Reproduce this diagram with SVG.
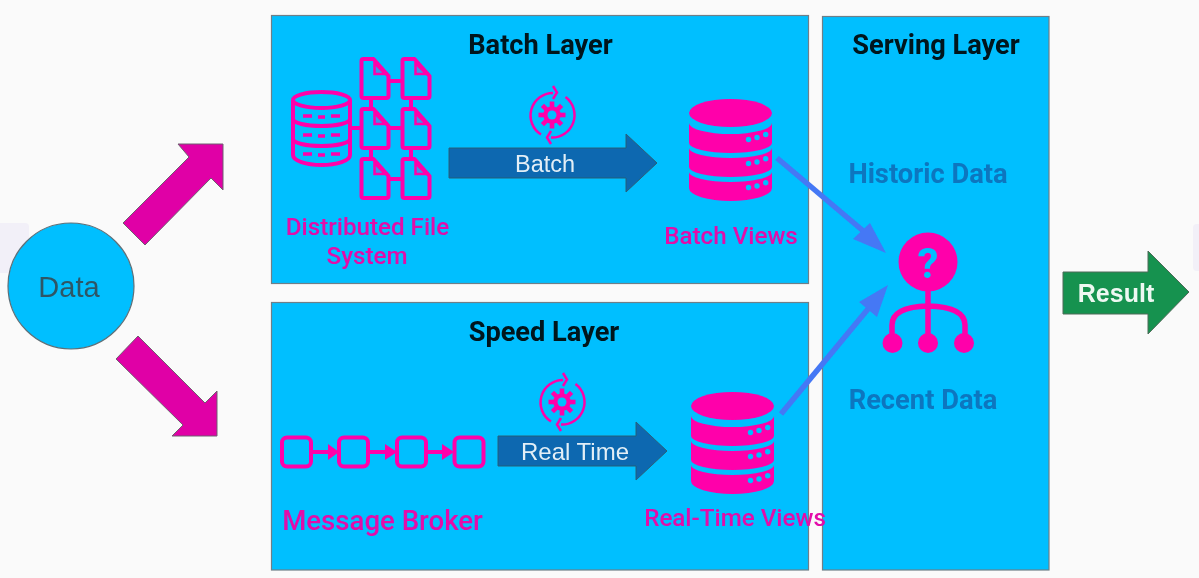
<svg xmlns="http://www.w3.org/2000/svg" width="1199" height="578" viewBox="0 0 1199 578">
<style>
text{font-family:Roboto,"Liberation Sans",sans-serif;text-anchor:middle}
.panel{fill:#00bfff;stroke:#6e7f88;stroke-width:1.2}
.h{font-size:27.200px;font-weight:700;fill:#04121c}
.m{font-weight:500;fill:#e30aa9;font-size:24.200px}
.s{font-weight:700;fill:#0a76bf;font-size:27.300px}
.a{font-family:"Liberation Sans",sans-serif}
.ln{fill:none;stroke:#ff00aa;stroke-width:4;stroke-linejoin:round;stroke-linecap:round}
.big{fill:#e000a6;stroke:#6f5f70;stroke-width:1}
.blue{fill:#0768b0;stroke:#2d5f78;stroke-width:1}
.c{fill:none;stroke:#4478f5;stroke-width:5.500}
.ch{fill:#4478f5}
</style>
<defs>
<filter id="soft" x="0" y="0" width="100%" height="100%"><feGaussianBlur stdDeviation="0.500"/></filter>
<g id="db">
<ellipse cx="730.500" cy="113" rx="41.500" ry="14" fill="#ff00aa"/>
<path d="M689 123A41.500 11 0 0 0 772 123V143A41.500 10 0 0 1 689 143Z" fill="#ff00aa"/>
<path d="M689 148A41.500 10 0 0 0 772 148V167A41.500 10 0 0 1 689 167Z" fill="#ff00aa"/>
<path d="M689 172A41.500 10 0 0 0 772 172V188A41.500 13 0 0 1 689 188Z" fill="#ff00aa"/>
<g fill="#00bfff"><circle cx="748.500" cy="139.500" r="2.700"/><circle cx="757" cy="137.500" r="2.700"/><circle cx="765.700" cy="134.500" r="2.700"/><circle cx="748.500" cy="163.500" r="2.700"/><circle cx="757" cy="162" r="2.700"/><circle cx="765.700" cy="158.700" r="2.700"/><circle cx="748.500" cy="187.500" r="2.700"/><circle cx="757" cy="186" r="2.700"/><circle cx="765.700" cy="182.700" r="2.700"/></g>
</g>
<g id="gear">
<circle r="6.500" fill="none" stroke="#ff00aa" stroke-width="4.500"/>
<g fill="#ff00aa"><rect x="-2.300" y="-13.500" width="4.600" height="27"/><rect x="-2.300" y="-13.500" width="4.600" height="27" transform="rotate(45)"/><rect x="-2.300" y="-13.500" width="4.600" height="27" transform="rotate(90)"/><rect x="-2.300" y="-13.500" width="4.600" height="27" transform="rotate(135)"/></g>
<circle r="4.500" fill="#00bfff"/>
<path d="M-11 19.500A22.500 22.500 0 0 1 1 -22M13.500 -18A22.500 22.500 0 0 1 -1 22.500" fill="none" stroke="#ff00aa" stroke-width="2.500"/>
<path d="M1 -29L5 -22.500L1 -16M-1 16L-5 22.500L-1 29" fill="none" stroke="#ff00aa" stroke-width="2.500"/>
</g>
<g id="file"><path class="ln" d="M0 2Q0 0 2 0H12L27 17V37Q27 39 25 39H2Q0 39 0 37Z"/><path d="M13 4V15H24Z" fill="#ff00aa" fill-opacity="0.25" stroke="#ff00aa" stroke-width="2.500"/></g>
</defs>
<g filter="url(#soft)">
<rect width="1199" height="578" fill="#fafafa"/>
<rect x="-4" y="223" width="33" height="50" rx="4" fill="#f2f0f8"/>
<rect x="1193" y="224" width="12" height="47" rx="4" fill="#f2f0f8"/>

<g id="batch-layer">
<rect class="panel" x="271.500" y="15.500" width="537" height="268"/>
<text class="h" x="540.500" y="54">Batch Layer</text>
</g>
<g id="speed-layer">
<rect class="panel" x="271.500" y="302.500" width="537" height="267.500"/>
<text class="h" x="544" y="341">Speed Layer</text>
</g>
<g id="serving-layer">
<rect class="panel" x="822.500" y="16.500" width="226.500" height="553.500"/>
<text class="h" x="936" y="54">Serving Layer</text>
<text class="s" x="928" y="183">Historic Data</text>
<text class="s" x="923" y="409">Recent Data</text>
</g>
<g id="data">
<circle cx="71" cy="286" r="63" fill="#00bfff" stroke="#5f7078" stroke-width="1.200"/>
<text class="a" x="69" y="297" font-size="29" fill="#2f5766">Data</text>
</g>
<g id="dfs">
<path class="ln" d="M293 100V155A28.500 10 0 0 0 350 155V100M293 100A28.500 8 0 0 1 350 100A28.500 8 0 0 1 293 100ZM293 119A28.500 7 0 0 0 350 119M293 139A28.500 7 0 0 0 350 139"/>
<path d="M303 116H312M318 117H325M331 116H340M303 135H312M318 136H325M331 135H340M303 154H312M318 155H325M331 154H340" stroke="#ff00aa" stroke-width="3.500" fill="none"/>
<path class="ln" d="M351 128H361M389 81H401M389 128H401M389 179H401M371 99V108M411 99V108M371 148V158M411 148V158"/>
<use href="#file" x="361.500" y="59"/><use href="#file" x="402.500" y="59"/>
<use href="#file" x="361.500" y="109"/><use href="#file" x="402.500" y="109"/>
<use href="#file" x="361.500" y="159"/><use href="#file" x="402.500" y="159"/>
<text class="m" x="367.500" y="235">Distributed File</text>
<text class="m" x="367" y="264">System</text>
</g>
<g id="batch-process">
<use href="#gear" x="552" y="115"/>
<path class="blue" d="M449 148H626V134L657 163L626 192V178H449Z"/>
<text class="a" x="545" y="172" font-size="23.500" fill="#e3eef6">Batch</text>
</g>
<g id="batch-views">
<use href="#db"/>
<text class="m" x="731" y="244">Batch Views</text>
</g>
<g id="message-broker">
<g class="ln"><rect x="282" y="437.500" width="29" height="29" rx="5"/><rect x="339" y="437.500" width="29" height="29" rx="5"/><rect x="397" y="437.500" width="29" height="29" rx="5"/><rect x="454.500" y="437.500" width="29" height="29" rx="5"/><path d="M312 452H330M369 452H388M427 452H445"/></g>
<path d="M328 444L339 452L328 460ZM385 444L397 452L385 460ZM442 444L454 452L442 460Z" fill="#ff00aa"/>
<text class="m" style="font-size:27.600px" x="382.500" y="530">Message Broker</text>
</g>
<g id="realtime-process">
<use href="#gear" x="562" y="402"/>
<path class="blue" d="M498 436H636V422L667 451L636 480V466H498Z"/>
<text class="a" x="575" y="460" font-size="24" fill="#e3eef6">Real Time</text>
</g>
<g id="realtime-views">
<use href="#db" x="2" y="293"/>
<text class="m" x="735" y="526">Real-Time Views</text>
</g>
<g id="query">
<circle cx="928" cy="262" r="29.500" fill="#ff00aa"/>
<text x="928" y="278" font-size="42" font-weight="700" fill="#00bfff">?</text>
<path d="M928 290V340M892 335V325Q892 307 928 306Q965 307 965 325V335" fill="none" stroke="#ff00aa" stroke-width="5.500"/>
<circle cx="892.500" cy="343" r="10" fill="#ff00aa"/><circle cx="928" cy="343" r="10" fill="#ff00aa"/><circle cx="964" cy="343" r="10" fill="#ff00aa"/>
</g>
<g id="connectors">
<path class="big" d="M178 144H223V190L211 178L145 245L123 223L189 157Z"/>
<path class="big" d="M138 336L116 359L183 425L172 436H217V391L205 403Z"/>
<path class="c" d="M777 158L868 235"/><path class="ch" d="M886 253L853 239L870 223Z"/>
<path class="c" d="M781 414L868 309"/><path class="ch" d="M888 285L859 302L877 317Z"/>
</g>
<g id="result">
<path d="M1063 272H1148V251L1189 292L1148 334V314H1063Z" fill="#17924f" stroke="#4d6a58" stroke-width="1"/>
<text x="1116" y="302" font-size="25" font-weight="700" fill="#eef8f2" style="font-family:'Liberation Sans',sans-serif">Result</text>
</g>
</g>
</svg>
